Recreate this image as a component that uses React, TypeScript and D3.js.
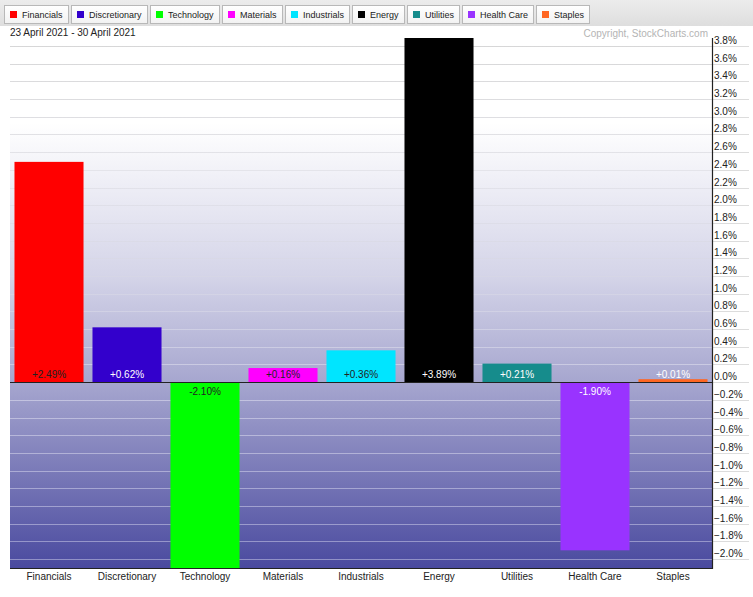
import React, { useEffect, useRef } from "react";
import * as d3 from "d3";

// sector performance, 23 April 2021 - 30 April 2021
const sectors = [
  "Financials",
  "Discretionary",
  "Technology",
  "Materials",
  "Industrials",
  "Energy",
  "Utilities",
  "Health Care",
  "Staples",
];
const changes = [2.49, 0.62, -2.1, 0.16, 0.36, 3.89, 0.21, -1.9, 0.01];
const tickValues = [
  3.8, 3.6, 3.4, 3.2, 3.0, 2.8, 2.6, 2.4, 2.2, 2.0, 1.8, 1.6, 1.4, 1.2, 1.0,
  0.8, 0.6, 0.4, 0.2, 0.0, -0.2, -0.4, -0.6, -0.8, -1.0, -1.2, -1.4, -1.6,
  -1.8, -2.0,
];
const dateRange = "23 April 2021 - 30 April 2021";

const sectorColors = [
  "#ff0000",
  "#3300cc",
  "#00ff00",
  "#ff00ff",
  "#00e5ff",
  "#000000",
  "#168c8c",
  "#9933ff",
  "#ff6622",
];
const labelInk = ["#222", "#fff", "#222", "#222", "#222", "#fff", "#fff", "#fff", "#fff"];

const FONT = "'Liberation Sans', Arial, sans-serif";

const SectorChart = () => {
  const container = useRef<HTMLDivElement>(null);

  useEffect(() => {
    const width = 753;
    const height = 597;
    const left = 10;
    const right = 712;
    const top = 38;
    const bottom = 568;

    const root = d3.select(container.current);
    root.select("svg").remove();

    const svg = root
      .append("svg")
      .attr("width", width)
      .attr("height", height)
      .style("position", "absolute")
      .style("left", "0px")
      .style("top", "0px")
      .style("font-family", FONT);

    svg.append("rect").attr("width", width).attr("height", height).attr("fill", "#fff");

    const x = d3
      .scaleBand()
      .domain(sectors)
      .range([left, right])
      .paddingInner(0.115)
      .paddingOuter(0.0575);

    const y = d3
      .scaleLinear()
      .domain([d3.min(changes) as number, d3.max(changes) as number])
      .range([bottom, top]);

    const defs = svg.append("defs");

    // background fades from white to blue-violet
    const bg = defs
      .append("linearGradient")
      .attr("id", "plotBg")
      .attr("gradientUnits", "userSpaceOnUse")
      .attr("x1", 0)
      .attr("x2", 0)
      .attr("y1", top)
      .attr("y2", bottom);
    bg.append("stop").attr("offset", "0%").attr("stop-color", "#ffffff");
    bg.append("stop").attr("offset", "16%").attr("stop-color", "#ffffff");
    bg.append("stop").attr("offset", "45%").attr("stop-color", "#d4d4e8");
    bg.append("stop").attr("offset", "65%").attr("stop-color", "#a6a6cf");
    bg.append("stop").attr("offset", "100%").attr("stop-color", "#4a4a9f");

    const gridGrad = defs
      .append("linearGradient")
      .attr("id", "gridInk")
      .attr("gradientUnits", "userSpaceOnUse")
      .attr("x1", 0)
      .attr("x2", 0)
      .attr("y1", top)
      .attr("y2", bottom);
    gridGrad.append("stop").attr("offset", "0%").attr("stop-color", "#d6d6d6");
    gridGrad.append("stop").attr("offset", "25%").attr("stop-color", "#e4e4ea");
    gridGrad.append("stop").attr("offset", "65%").attr("stop-color", "#c8c8e2");
    gridGrad.append("stop").attr("offset", "100%").attr("stop-color", "#8e8ec6");

    const legendBg = defs
      .append("linearGradient")
      .attr("id", "legendBg")
      .attr("x1", "0%")
      .attr("x2", "0%")
      .attr("y1", "0%")
      .attr("y2", "100%");
    legendBg.append("stop").attr("offset", "0%").attr("stop-color", "#ececec");
    legendBg.append("stop").attr("offset", "100%").attr("stop-color", "#dedede");

    const btnBg = defs
      .append("linearGradient")
      .attr("id", "btnBg")
      .attr("x1", "0%")
      .attr("x2", "0%")
      .attr("y1", "0%")
      .attr("y2", "100%");
    btnBg.append("stop").attr("offset", "0%").attr("stop-color", "#ffffff");
    btnBg.append("stop").attr("offset", "100%").attr("stop-color", "#f2f2f2");

    // plot background
    svg
      .append("rect")
      .attr("x", left)
      .attr("y", top)
      .attr("width", right - left)
      .attr("height", bottom - top)
      .attr("fill", "url(#plotBg)");

    // grid lines
    const grid = svg.append("g");
    tickValues.forEach((t) => {
      const yy = Math.round(y(t)) + 0.5;
      grid
        .append("line")
        .attr("x1", left)
        .attr("x2", right)
        .attr("y1", yy)
        .attr("y2", yy)
        .attr("stroke", "url(#gridInk)")
        .attr("stroke-width", 1.2);
      grid
        .append("line")
        .attr("x1", right)
        .attr("x2", width - 4)
        .attr("y1", yy)
        .attr("y2", yy)
        .attr("stroke", "#dcdcdc")
        .attr("stroke-width", 1);
    });

    // bars (tiny values still get a visible sliver)
    const zero = y(0);
    svg
      .append("g")
      .selectAll("rect")
      .data(changes)
      .join("rect")
      .attr("x", (_, i) => x(sectors[i]) as number)
      .attr("width", x.bandwidth())
      .attr("y", (d) =>
        d >= 0 ? zero - Math.max(zero - y(d), 3) : zero
      )
      .attr("height", (d) => Math.max(Math.abs(y(d) - zero), 3))
      .attr("fill", (_, i) => sectorColors[i]);

    // value labels
    svg
      .append("g")
      .selectAll("text")
      .data(changes)
      .join("text")
      .attr("x", (_, i) => (x(sectors[i]) as number) + x.bandwidth() / 2)
      .attr("y", (d) => (d >= 0 ? zero - 4 : zero + 13))
      .attr("text-anchor", "middle")
      .attr("font-size", 10)
      .attr("fill", (_, i) => labelInk[i])
      .text((d) => (d >= 0 ? "+" : "") + d.toFixed(2) + "%");

    // zero line
    svg
      .append("line")
      .attr("x1", left)
      .attr("x2", right)
      .attr("y1", Math.round(zero) + 0.5)
      .attr("y2", Math.round(zero) + 0.5)
      .attr("stroke", "#222")
      .attr("stroke-width", 1.2);

    // right axis + bottom axis frame
    svg
      .append("path")
      .attr("d", `M${left},${bottom + 0.5}H${right + 0.5}V${top}`)
      .attr("fill", "none")
      .attr("stroke", "#222")
      .attr("stroke-width", 1.2);

    // tick labels
    svg
      .append("g")
      .selectAll("text")
      .data(tickValues)
      .join("text")
      .attr("x", right + 2)
      .attr("y", (t) => y(t) - 2)
      .attr("font-size", 10)
      .attr("fill", "#222")
      .text((t) => d3.format(".1f")(t) + "%");

    // category labels
    svg
      .append("g")
      .selectAll("text")
      .data(sectors)
      .join("text")
      .attr("x", (d) => (x(d) as number) + x.bandwidth() / 2)
      .attr("y", bottom + 12)
      .attr("text-anchor", "middle")
      .attr("font-size", 10)
      .attr("fill", "#222")
      .text((d) => d);

    // header texts
    svg
      .append("text")
      .attr("x", left)
      .attr("y", 36)
      .attr("font-size", 10)
      .attr("fill", "#222")
      .text(dateRange);
    svg
      .append("text")
      .attr("x", 708)
      .attr("y", 37)
      .attr("text-anchor", "end")
      .attr("font-size", 10)
      .attr("fill", "#b4b4b4")
      .text("Copyright, StockCharts.com");

    // legend strip
    svg
      .append("rect")
      .attr("x", 0)
      .attr("y", 0)
      .attr("width", width)
      .attr("height", 26)
      .attr("fill", "url(#legendBg)");

    let bx = 4;
    sectors.forEach((s, i) => {
      const g = svg.append("g").attr("transform", `translate(${bx},5)`);
      const rect = g
        .append("rect")
        .attr("x", 0.5)
        .attr("y", 0.5)
        .attr("height", 18)
        .attr("fill", "url(#btnBg)")
        .attr("stroke", "#b8b8b8");
      g.append("rect")
        .attr("x", 6)
        .attr("y", 6)
        .attr("width", 7)
        .attr("height", 7)
        .attr("fill", sectorColors[i]);
      const label = g
        .append("text")
        .attr("x", 18)
        .attr("y", 13)
        .attr("font-size", 9)
        .attr("fill", "#222")
        .text(s);
      const tw = (label.node() as SVGTextElement).getComputedTextLength();
      const w = Math.round(tw + 23);
      rect.attr("width", w);
      bx += w + 3;
    });

    return () => {
      root.select("svg").remove();
    };
  }, []);

  return <div ref={container}></div>;
};

export default function App() {
  return <SectorChart />;
}
